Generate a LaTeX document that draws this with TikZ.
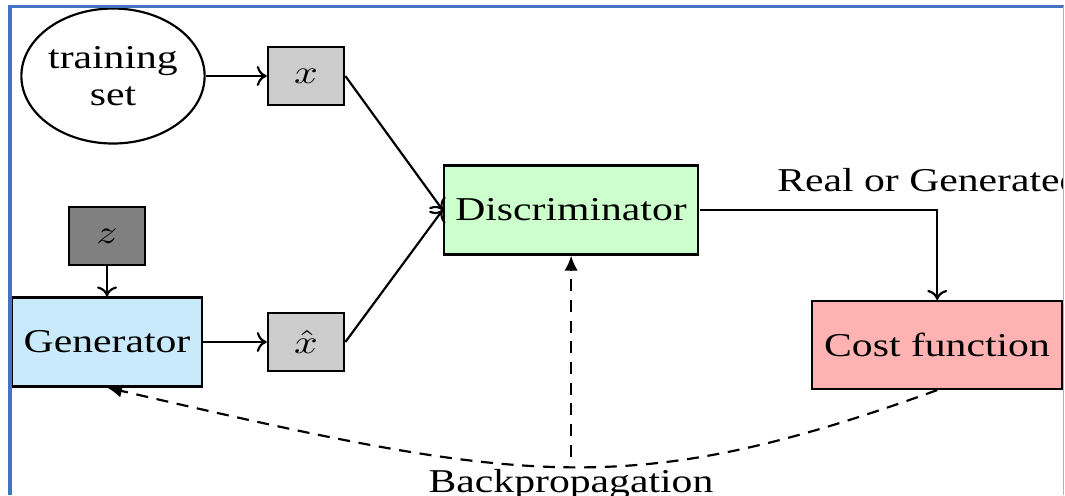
\documentclass[tikz,border=0pt]{standalone}
\usepackage{fontspec}
\setmainfont{Liberation Serif}
\usetikzlibrary{arrows.meta}
\usetikzlibrary{shapes.geometric}
\definecolor{frameblue}{RGB}{68,114,196}
\definecolor{rimblue}{RGB}{160,182,214}
\definecolor{genblue}{RGB}{200,234,250}
\definecolor{discgreen}{RGB}{204,255,204}
\definecolor{costred}{RGB}{255,178,178}

\begin{document}
\begin{tikzpicture}[x=0.24pt,y=-0.3pt,xscale=1.25,transform shape,
  font=\fontsize{10}{11}\selectfont,line width=0.65pt,
  block/.style={draw,rectangle,inner sep=0pt,minimum height=26.7pt},
  smallbox/.style={draw,rectangle,inner sep=0pt,minimum width=18.2pt,minimum height=17.4pt},
  flow/.style={-{To[length=3pt,width=6pt]}},
  back/.style={dash pattern=on 3.6pt off 2.6pt,-{Latex[length=4.5pt,width=4pt]}}]
\path[use as bounding box,fill=white] (0,0) rectangle (1065,495);

\begin{scope}
\clip (0,0) rectangle (1063,495);
%Shape: Ellipse [training set]
\node[draw,ellipse,inner sep=0pt,minimum width=42.5pt,minimum height=40.5pt,align=center] (train) at (113,76) {training\\set};
%Shape: Rectangles [samples]
\node[smallbox,fill=black!20] (xr) at (306,76) {$x$};
\node[smallbox,fill=black!50] (noise) at (107,236) {$z$};
\node[block,fill=genblue,minimum width=45.6pt] (gen) at (107,342) {Generator};
\node[smallbox,fill=black!20] (xf) at (306,342) {$\hat{x}$};
\node[block,fill=discgreen,minimum width=61pt] (disc) at (571,210) {Discriminator};
\node[block,fill=costred,minimum width=60.2pt,minimum height=26.4pt] (cost) at (937,345) {Cost function};
% Text Node
\node[anchor=base] (bp) at (571,492) {Backpropagation};

%Straight Lines
\draw[flow] (train.east) -- (xr.west);
\draw[flow] (noise.south) -- (gen.north);
\draw[flow] (gen.east) -- (xf.west);
\draw[flow] (xr.east) -- (disc.west);
\draw[flow] (xf.east) -- (disc.west);
\draw[flow] (disc.east) -| node[pos=0.5,above,inner sep=5pt,xshift=-2pt] (rg) {Real or Generated} (cost.north);

%Dashed Lines
\draw[back] (bp.north) -- (disc.south);
\draw[back] (cost.south) .. controls +(-310,112) and +(414,96) .. (gen.south);
\end{scope}

%Frame
\draw[frameblue,line width=1.2pt] (10,495) -- (10,5);
\draw[frameblue,line width=0.9pt] (8,6.5) -- (1064,6.5);
\draw[rimblue,line width=0.4pt] (1063.5,6) -- (1063.5,495);
\end{tikzpicture}
\end{document}
